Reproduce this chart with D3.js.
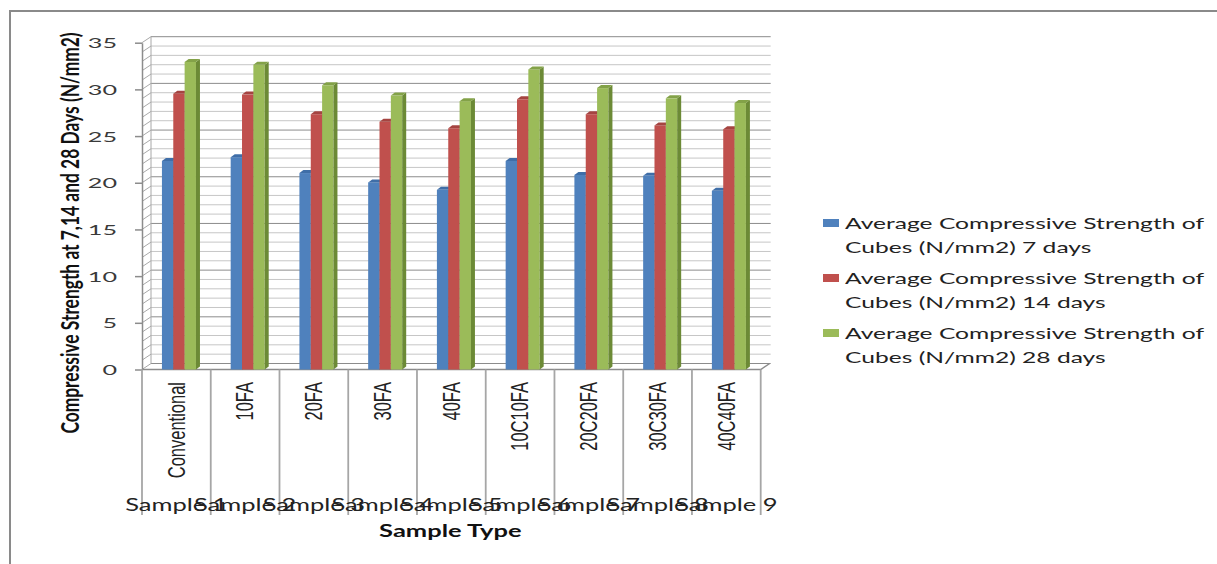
<!DOCTYPE html>
<html><head><meta charset="utf-8">
<script src="https://cdn.jsdelivr.net/npm/d3@7"></script>
<style>html,body{margin:0;padding:0;background:#fff;} svg{display:block;}</style>
</head><body>
<svg id="chart" width="1217" height="564"></svg>
<script>
// ---- data ----
const categories = ["Conventional","10FA","20FA","30FA","40FA","10C10FA","20C20FA","30C30FA","40C40FA"];
const groups = ["Sample 1","Sample 2","Sample 3","Sample 4","Sample 5","Sample 6","Sample 7","Sample 8","Sample 9"];
const days7  = [22.5, 22.9, 21.2, 20.2, 19.4, 22.5, 21.0, 20.9, 19.3];
const days14 = [29.7, 29.6, 27.5, 26.7, 26.0, 29.1, 27.5, 26.3, 25.9];
const days28 = [33.1, 32.8, 30.6, 29.5, 28.9, 32.3, 30.3, 29.2, 28.7];
const seriesNames = [
  "Average Compressive Strength of Cubes (N/mm2) 7 days",
  "Average Compressive Strength of Cubes (N/mm2) 14 days",
  "Average Compressive Strength of Cubes (N/mm2) 28 days"
];
const yTicks = [0,5,10,15,20,25,30,35];
const yTitle = "Compressive Strength at 7,14 and 28 Days (N/mm2)";
const xTitle = "Sample Type";

// ---- style ----
const frontColors = ["#4F81BD","#C0504D","#9BBB59"];
const sideColors  = ["#355f91","#8e3936","#6c8a36"];
const topColors   = ["#3f6ea8","#a54441","#83a248"];
const FONT = "Lato, 'Open Sans', sans-serif";
const LABFONT = "'Liberation Sans Narrow','Liberation Sans', Arial, sans-serif";

const seriesData = [days7, days14, days28];
const svg = d3.select("#chart");
const W = 1217, H = 564;

const plot = {left:142, right:760.7, bottom:369.5, top:42.7};
const DX = 9, DY = -6;      // wall depth
const BDX = 4, BDY = -3;    // bar depth

const x = d3.scaleBand().domain(categories).range([plot.left, plot.right]);
const y = d3.scaleLinear().domain([0,35]).range([plot.bottom, plot.top]);
const bw = x.bandwidth();
const xs = d3.scaleBand().domain(d3.range(seriesData.length)).range([0, bw*0.495]);

// outer frame
svg.append("path")
  .attr("d", `M10,${H} V11 H${W}`)
  .attr("fill","none").attr("stroke","#8a8a8a").attr("stroke-width",2);

// back wall gridlines
const minor = d3.range(0, 36, 1);
svg.append("g").selectAll("line").data(minor).join("line")
  .attr("x1", plot.left + DX).attr("x2", plot.right + DX + 1)
  .attr("y1", d => y(d) + DY).attr("y2", d => y(d) + DY)
  .attr("stroke", d => d % 5 === 0 ? "#8c8c8c" : "#c6c6c6")
  .attr("stroke-width", 1);
// side wall diagonals
svg.append("g").selectAll("line").data(minor).join("line")
  .attr("x1", plot.left).attr("x2", plot.left + DX)
  .attr("y1", d => y(d)).attr("y2", d => y(d) + DY)
  .attr("stroke", "#a8a8a8").attr("stroke-width", 1);
// back wall left edge
svg.append("line")
  .attr("x1", plot.left + DX).attr("x2", plot.left + DX)
  .attr("y1", y(0) + DY).attr("y2", y(35) + DY)
  .attr("stroke", "#a8a8a8");

// floor edge
svg.append("path")
  .attr("d", `M${plot.left},${y(0)} H${plot.right} L${plot.right+DX},${y(0)+DY}`)
  .attr("fill","none").attr("stroke","#8c8c8c").attr("stroke-width",1.5);

// bars
const barW = xs.bandwidth();
categories.forEach((c, i) => {
  const gx = x(c) + bw * 0.29;
  seriesData.forEach((arr, s) => {
    const v = arr[i];
    const bx = gx + xs(s);
    const yt = y(v) - BDY * 0.5;
    const yb = y(0);
    const g = svg.append("g");
    g.append("rect").attr("x", bx).attr("y", yt).attr("width", barW).attr("height", yb - yt)
      .attr("fill", frontColors[s]);
    g.append("path")
      .attr("d", `M${bx+barW},${yt} L${bx+barW+BDX},${yt+BDY} L${bx+barW+BDX},${yb+BDY} L${bx+barW},${yb} Z`)
      .attr("fill", sideColors[s]);
    g.append("path")
      .attr("d", `M${bx},${yt} L${bx+BDX},${yt+BDY} L${bx+barW+BDX},${yt+BDY} L${bx+barW},${yt} Z`)
      .attr("fill", topColors[s]);
  });
});

// y axis
const ga = svg.append("g").attr("transform", `translate(${plot.left},0)`)
  .call(d3.axisLeft(y).tickValues(yTicks).tickSize(7).tickSizeOuter(0));
ga.select(".domain").attr("stroke", "#8c8c8c").attr("stroke-width", 1.5);
ga.selectAll(".tick line").attr("stroke", "#8c8c8c").attr("stroke-width", 1.5);
const TSX = 1.8;
ga.selectAll(".tick text")
  .attr("font-family", FONT).attr("font-size", 14).attr("fill", "#3a3a3a")
  .attr("x", -25 / TSX).attr("dy", "0.36em")
  .attr("transform", `scale(${TSX},1)`);

// category separators
const bounds = categories.map(c => x(c)).concat([x(categories[categories.length-1]) + bw]);
svg.append("g").selectAll("line").data(bounds).join("line")
  .attr("x1", d => d).attr("x2", d => d)
  .attr("y1", y(0)).attr("y2", 515)
  .attr("stroke", "#a6a6a6").attr("stroke-width", 1.8);

// category labels (rotated)
svg.append("g").selectAll("g").data(categories).join("g")
  .attr("transform", c => `translate(${x(c)+bw/2},382) scale(1.4,1) rotate(-90)`)
  .append("text").text(c => c)
  .attr("text-anchor", "end").attr("dy", "0.36em")
  .attr("font-family", LABFONT).attr("font-size", 16.5).attr("fill", "#222");

// group labels
svg.append("g").selectAll("g").data(groups).join("g")
  .attr("transform", (d, i) => `translate(${x(categories[i])+bw/2},511) scale(1.5,1)`)
  .append("text").text(d => d)
  .attr("text-anchor", "middle")
  .attr("font-family", FONT).attr("font-size", 17).attr("fill", "#222");

// x title
svg.append("g").attr("transform", `translate(${(plot.left+plot.right)/2 - 1},537) scale(1.5,1)`)
  .append("text").text(xTitle)
  .attr("text-anchor", "middle").attr("font-weight", "bold")
  .attr("font-family", FONT).attr("font-size", 17).attr("fill", "#111");

// y title
svg.append("g").attr("transform", `translate(69.5,233) scale(1.45,1) rotate(-90)`)
  .append("text").text(yTitle)
  .attr("text-anchor", "middle").attr("dy", "0.36em").attr("font-weight", "bold")
  .attr("font-family", FONT).attr("font-size", 17.4).attr("fill", "#111");

// legend
const LSX = 1.64;
const leg = svg.append("g").selectAll("g").data(seriesNames).join("g")
  .attr("transform", (d, i) => `translate(823,${229 + i*55})`);
leg.append("rect").attr("x", 0).attr("y", -10).attr("width", 16).attr("height", 8)
  .attr("fill", (d, i) => frontColors[i]);
leg.each(function(d) {
  const k = d.indexOf(" of ") + 3;
  const lines = [d.slice(0, k), d.slice(k + 1)];
  d3.select(this).selectAll("g.ln").data(lines).join("g").attr("class","ln")
    .attr("transform", (t, j) => `translate(22,${j*23.5}) scale(${LSX},1)`)
    .append("text").text(t => t)
    .attr("font-family", FONT).attr("font-size", 15).attr("fill", "#222");
});
</script>
</body></html>
